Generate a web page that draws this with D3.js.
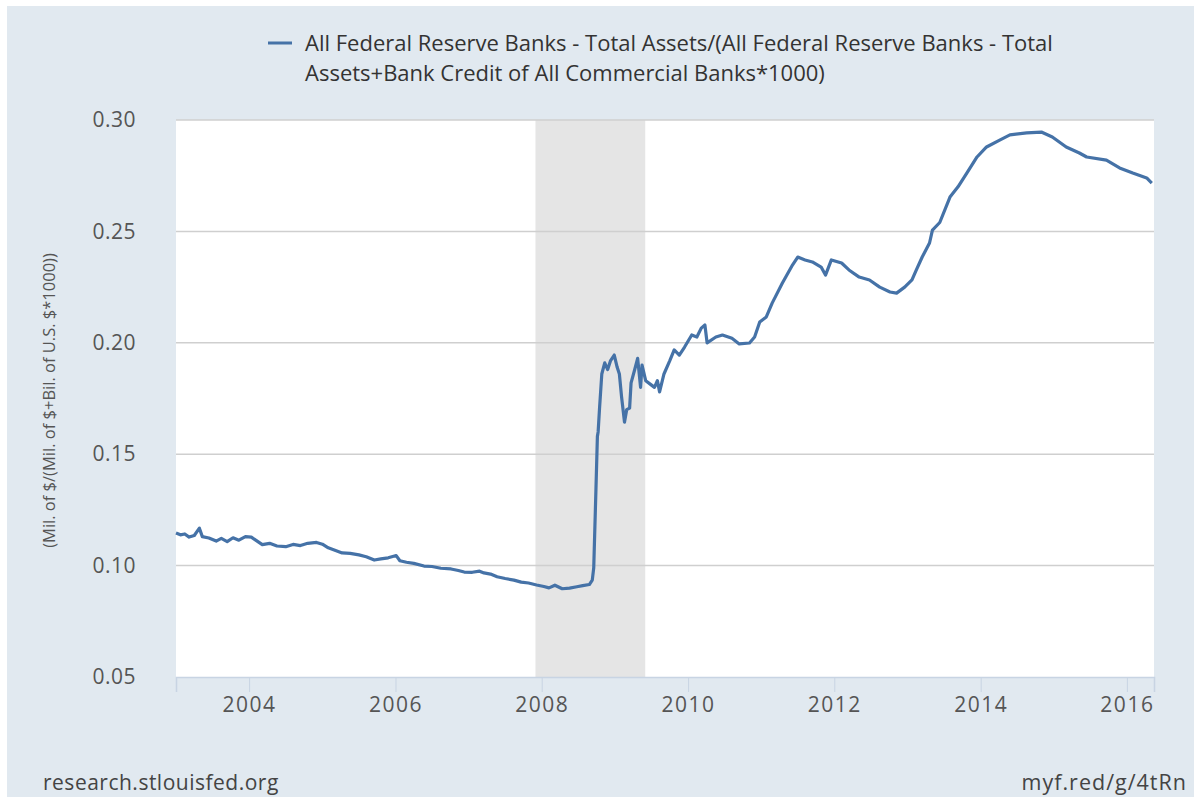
<!DOCTYPE html>
<html>
<head>
<meta charset="utf-8">
<script src="https://cdn.jsdelivr.net/npm/d3@7"></script>
<style>
  body { margin: 0; background: #ffffff; }
  svg { display: block; }
</style>
</head>
<body>
<div class="chart"></div>
<script>
// decimal years
const years = [
  2003.00, 2003.06, 2003.12, 2003.18, 2003.25, 2003.32, 2003.36, 2003.45, 2003.55, 2003.62,
  2003.70, 2003.78, 2003.86, 2003.95, 2004.03, 2004.10, 2004.18, 2004.28, 2004.38, 2004.50,
  2004.60, 2004.70, 2004.80, 2004.92, 2005.00, 2005.08, 2005.18, 2005.27, 2005.38, 2005.50,
  2005.60, 2005.71, 2005.80, 2005.90, 2006.01, 2006.06, 2006.15, 2006.25, 2006.39, 2006.50,
  2006.62, 2006.76, 2006.86, 2006.94, 2007.05, 2007.15, 2007.21, 2007.30, 2007.39, 2007.50,
  2007.62, 2007.72, 2007.82, 2007.93, 2008.03, 2008.10, 2008.18, 2008.28, 2008.38, 2008.48,
  2008.56, 2008.65, 2008.69, 2008.71, 2008.74, 2008.76, 2008.77, 2008.79, 2008.82, 2008.86,
  2008.90, 2008.94, 2008.99, 2009.03, 2009.06, 2009.09, 2009.13, 2009.16, 2009.20, 2009.22,
  2009.27, 2009.31, 2009.35, 2009.37, 2009.42, 2009.50, 2009.54, 2009.58, 2009.61, 2009.67,
  2009.75, 2009.81, 2009.88, 2009.95, 2010.05, 2010.12, 2010.18, 2010.23, 2010.26, 2010.38,
  2010.47, 2010.60, 2010.70, 2010.84, 2010.91, 2010.98, 2011.07, 2011.15, 2011.29, 2011.43,
  2011.50, 2011.60, 2011.70, 2011.82, 2011.88, 2011.96, 2012.10, 2012.20, 2012.34, 2012.48,
  2012.62, 2012.76, 2012.85, 2012.96, 2013.06, 2013.12, 2013.20, 2013.30, 2013.34, 2013.44,
  2013.58, 2013.69, 2013.81, 2013.95, 2014.08, 2014.26, 2014.40, 2014.63, 2014.83, 2014.98,
  2015.17, 2015.35, 2015.45, 2015.72, 2015.90, 2016.08, 2016.27, 2016.34
];
const ratio = [
  0.1146, 0.1138, 0.1142, 0.1128, 0.1135, 0.1168, 0.1130, 0.1124, 0.1110, 0.1122,
  0.1108, 0.1125, 0.1114, 0.1130, 0.1128, 0.1112, 0.1094, 0.1100, 0.1088, 0.1085,
  0.1095, 0.1090, 0.1100, 0.1104, 0.1096, 0.1080, 0.1068, 0.1057, 0.1055, 0.1048,
  0.1040, 0.1025, 0.1030, 0.1035, 0.1045, 0.1022, 0.1015, 0.1010, 0.0998, 0.0996,
  0.0988, 0.0985, 0.0978, 0.0971, 0.0970, 0.0975, 0.0967, 0.0962, 0.0950, 0.0942,
  0.0935, 0.0926, 0.0922, 0.0913, 0.0906, 0.0900, 0.0912, 0.0896, 0.0899, 0.0905,
  0.0910, 0.0915, 0.0935, 0.0990, 0.1340, 0.1580, 0.1600, 0.1710, 0.1860, 0.1910,
  0.1880, 0.1920, 0.1945, 0.1890, 0.1860, 0.1757, 0.1644, 0.1700, 0.1707, 0.1820,
  0.1880, 0.1930, 0.1800, 0.1900, 0.1830, 0.1810, 0.1800, 0.1830, 0.1780, 0.1860,
  0.1920, 0.1968, 0.1945, 0.1980, 0.2035, 0.2026, 0.2066, 0.2080, 0.2000, 0.2026,
  0.2035, 0.2020, 0.1995, 0.1999, 0.2026, 0.2093, 0.2116, 0.2178, 0.2268, 0.2350,
  0.2385, 0.2372, 0.2363, 0.2340, 0.2304, 0.2372, 0.2358, 0.2327, 0.2295, 0.2282,
  0.2250, 0.2228, 0.2223, 0.2250, 0.2282, 0.2327, 0.2385, 0.2448, 0.2506, 0.2540,
  0.2654, 0.2700, 0.2762, 0.2834, 0.2879, 0.2910, 0.2933, 0.2942, 0.2946, 0.2924,
  0.2879, 0.2852, 0.2834, 0.2820, 0.2785, 0.2762, 0.2740, 0.2717
];
const recession = ["2007-12-01", "2009-06-01"];
const xTicks = [2004, 2006, 2008, 2010, 2012, 2014, 2016];
const yTicks = [0.05, 0.10, 0.15, 0.20, 0.25, 0.30];
const legendLines = [
  "All Federal Reserve Banks - Total Assets/(All Federal Reserve Banks - Total",
  "Assets+Bank Credit of All Commercial Banks*1000)"
];
const yTitle = "(Mil. of $/(Mil. of $+Bil. of U.S. $*1000))";

function toDate(y) {
  const yr = Math.floor(y);
  const a = Date.UTC(yr, 0, 1), b = Date.UTC(yr + 1, 0, 1);
  return new Date(a + (y - yr) * (b - a));
}

const W = 1194, H = 797;
const plot = { left: 176, right: 1154, top: 120, bottom: 677 };

const svg = d3.select(".chart").append("svg")
  .attr("width", W).attr("height", H);

// background panel
svg.append("rect")
  .attr("x", 7).attr("y", 6)
  .attr("width", W - 7).attr("height", H - 6)
  .attr("fill", "#e1e9f0");

const xScale = d3.scaleUtc()
  .domain([toDate(2003.0), toDate(2016.37)])
  .range([plot.left, plot.right]);
const yScale = d3.scaleLinear()
  .domain([0.05, 0.30])
  .range([plot.bottom, plot.top]);

svg.append("rect")
  .attr("x", plot.left).attr("y", plot.top)
  .attr("width", plot.right - plot.left).attr("height", plot.bottom - plot.top)
  .attr("fill", "#ffffff");

// recession band
svg.append("rect")
  .attr("x", xScale(new Date(recession[0])))
  .attr("y", plot.top)
  .attr("width", xScale(new Date(recession[1])) - xScale(new Date(recession[0])))
  .attr("height", plot.bottom - plot.top)
  .attr("fill", "#e5e5e5");

// grid lines
svg.append("g")
  .selectAll("line")
  .data(yTicks.filter(d => d > 0.05))
  .enter().append("line")
  .attr("x1", plot.left).attr("x2", plot.right)
  .attr("y1", d => yScale(d)).attr("y2", d => yScale(d))
  .attr("stroke", "#cfcfcf")
  .attr("stroke-width", 1.5);

// y axis labels
const yAxis = svg.append("g")
  .attr("transform", "translate(" + plot.left + ",0)")
  .call(d3.axisLeft(yScale).tickValues(yTicks).tickFormat(d3.format(".2f")).tickSize(0).tickPadding(40));
yAxis.select(".domain").remove();
yAxis.selectAll("text")
  .style("font-family", "'Open Sans', sans-serif")
  .style("font-size", "21px")
  .style("letter-spacing", "0.5px")
  .attr("fill", "#555555");

// x axis
const xAxis = svg.append("g")
  .attr("transform", "translate(0," + plot.bottom + ")")
  .call(d3.axisBottom(xScale).tickValues(xTicks.map(y => toDate(y))).tickFormat(d3.utcFormat("%Y")).tickSize(15).tickPadding(5));
xAxis.select(".domain")
  .attr("stroke", "#c8d4e3")
  .attr("stroke-width", 1.5);
xAxis.selectAll(".tick line").attr("stroke", "#c8d4e3");
xAxis.selectAll("text")
  .style("font-family", "'Open Sans', sans-serif")
  .style("font-size", "21px")
  .style("letter-spacing", "1.5px")
  .attr("fill", "#555555");

// y axis title
svg.append("text")
  .attr("transform", "translate(55," + ((plot.top + plot.bottom) / 2 + 2) + ") rotate(-90)")
  .attr("text-anchor", "middle")
  .style("font-family", "'Open Sans', sans-serif")
  .style("font-size", "16.5px")
  .attr("fill", "#555555")
  .text(yTitle);

// series line
const line = d3.line()
  .x((d, i) => xScale(toDate(years[i])))
  .y(d => yScale(d));
svg.append("path")
  .datum(ratio)
  .attr("d", line)
  .attr("fill", "none")
  .attr("stroke", "#4572a7")
  .attr("stroke-width", 3.2)
  .attr("stroke-linejoin", "round");

// legend
svg.append("line")
  .attr("x1", 268).attr("x2", 292)
  .attr("y1", 43).attr("y2", 43)
  .attr("stroke", "#4572a7")
  .attr("stroke-width", 3);
svg.selectAll(".legendText")
  .data(legendLines)
  .enter().append("text")
  .attr("class", "legendText")
  .attr("x", 305)
  .attr("y", (d, i) => 51 + i * 30)
  .style("font-family", "'Open Sans', sans-serif")
  .style("font-size", "22px")
  .attr("fill", "#333333")
  .text(d => d);

// footer
svg.append("text")
  .attr("x", 43).attr("y", 790)
  .style("font-family", "'Open Sans', sans-serif")
  .style("font-size", "21px")
  .style("letter-spacing", "0.5px")
  .attr("fill", "#444444")
  .text("research.stlouisfed.org");
svg.append("text")
  .attr("x", 1187).attr("y", 790)
  .attr("text-anchor", "end")
  .style("font-family", "'Open Sans', sans-serif")
  .style("font-size", "21.5px")
  .style("letter-spacing", "1px")
  .attr("fill", "#444444")
  .text("myf.red/g/4tRn");
</script>
</body>
</html>
